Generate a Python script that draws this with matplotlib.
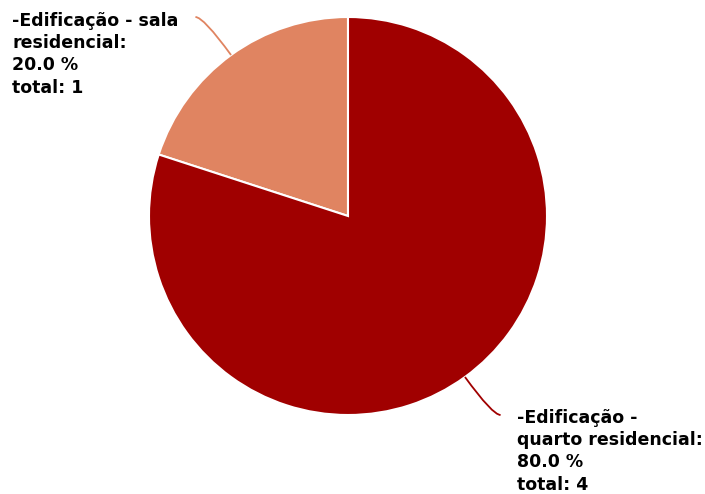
import numpy as np
import matplotlib
matplotlib.use("Agg")
import matplotlib.pyplot as plt
from matplotlib.path import Path
from matplotlib.patches import PathPatch

categories = ["-Edificação - sala\nresidencial", "-Edificação -\nquarto residencial"]
totals = [1, 4]
colors = ["#e08461", "#a00000"]

fig = plt.figure(figsize=(7.05, 4.94), dpi=100)
ax = fig.add_axes([0, 0, 1, 1])

cx, cy, r = 348, 216, 199
wedges, _ = ax.pie(totals, colors=colors, startangle=-90, counterclock=False,
                   center=(cx, cy), radius=r, frame=True,
                   wedgeprops=dict(edgecolor="white", linewidth=1.5))
ax.set_xlim(0, 705)
ax.set_ylim(494, 0)
ax.set_aspect("equal")
ax.axis("off")

total_sum = sum(totals)
label_pos = [(12, 12, "left"), (517, 409, "left")]
for w, cat, t, col, (lx, ly, ha) in zip(wedges, categories, totals, colors, label_pos):
    ang = np.deg2rad((w.theta1 + w.theta2) / 2)
    dx, dy = np.cos(ang), np.sin(ang)
    p0 = (cx + r * dx, cy + r * dy)
    ty = 17 if dy < 0 else 415
    tt = (ty - p0[1]) / dy
    p1 = (p0[0] + tt * dx, ty)
    p2 = (p1[0] + (8 if dx > 0 else -8), ty)
    path = Path([p0, p1, p2], [Path.MOVETO, Path.CURVE3, Path.CURVE3])
    ax.add_patch(PathPatch(path, facecolor="none", edgecolor=col, linewidth=1.3))
    pct = 100 * t / total_sum
    ax.text(lx, ly, f"{cat}:\n{pct:.1f} %\ntotal: {t}", ha=ha, va="top",
            fontsize=12.5, fontweight="bold", color="black", linespacing=1.3,
            family="DejaVu Sans")

fig.savefig("out.png", dpi=100)
